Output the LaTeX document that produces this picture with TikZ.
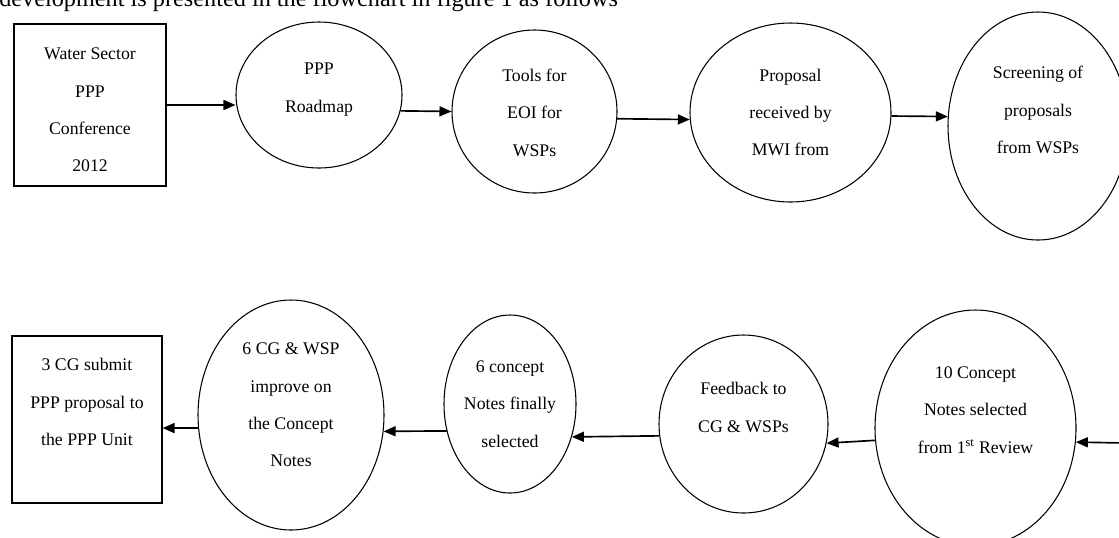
\documentclass[tikz,border=0pt]{standalone}
\usepackage{fontspec}
\setmainfont{Liberation Serif}
\usetikzlibrary{shapes.geometric,arrows.meta}

\begin{document}
\begin{tikzpicture}[x=0.75pt,y=-0.75pt]
        \tikzstyle{box}=[draw, line width=0.8pt, inner sep=0pt]
        \tikzstyle{bubble}=[draw, ellipse, line width=0.8pt, inner sep=0pt]
        \tikzstyle{txt}=[align=center, inner sep=0pt, font=\fontsize{13.3}{28}\selectfont]
        \tikzstyle{flow}=[-{Triangle[length=9pt,width=7.5pt]}, line width=1.25pt]
        \useasboundingbox (0,0) rectangle (1119,537);
        \clip (0,0) rectangle (1119,537);
        \node[anchor=base west, inner sep=0pt, font=\fontsize{18.2}{22}\selectfont] (intro) at (-1,6.5)
          {development is presented in the flowchart in figure 1 as follows};
        % first row
        \node[box, minimum width=114pt, minimum height=121.5pt,
          label={[txt, yshift=-3.75pt]center:{Water Sector\\PPP\\Conference\\2012}}] (wsc) at (90,105) {};
        \node[bubble, minimum width=124.5pt, minimum height=109.5pt,
          label={[txt, yshift=4pt]center:{PPP\\Roadmap}}] (road) at (319,95) {};
        \node[bubble, minimum width=123.75pt, minimum height=122.25pt,
          label={[txt, yshift=-1pt]center:{Tools for\\EOI for\\WSPs}}] (tools) at (534.5,111.5) {};
        \node[bubble, minimum width=150.75pt, minimum height=134.25pt,
          label={[txt]center:{Proposal\\received by\\MWI from}}] (prop) at (790.5,112.5) {};
        \node[bubble, minimum width=135pt, minimum height=171pt,
          label={[txt, yshift=12pt]center:{Screening of\\proposals\\from WSPs}}] (scr) at (1038,126) {};
        % second row
        \node[bubble, minimum width=150.75pt, minimum height=177pt,
          label={[txt, yshift=13.5pt]center:{10 Concept\\Notes selected\\from 1\textsuperscript{st} Review}}] (ten) at (975.5,428) {};
        \node[bubble, minimum width=126.75pt, minimum height=133.5pt,
          label={[txt, yshift=12.4pt]center:{Feedback to\\CG \& WSPs}}] (fdbk) at (743.5,424) {};
        \node[bubble, minimum width=99pt, minimum height=133.5pt,
          label={[txt]center:{6 concept\\Notes finally\\selected}}] (conc) at (510,404) {};
        \node[bubble, minimum width=139.5pt, minimum height=172.5pt,
          label={[txt, yshift=7.5pt]center:{6 CG \& WSP\\improve on\\the Concept\\Notes}}] (six) at (291,415) {};
        \node[box, minimum width=112.5pt, minimum height=125.25pt,
          label={[txt, yshift=13pt]center:{3 CG submit\\PPP proposal to\\the PPP Unit}}] (sub) at (87,419.5) {};
        \coordinate (rin) at (1125,443);
        % connectors
        \draw[flow] (wsc.east) -- (wsc.east -| road.west);
        \draw[flow] (road.-11.6) -- (tools.west);
        \draw[flow] (tools.-5.6) -- (prop.184);
        \draw[flow] (prop.-2.6) -- (scr.174.3);
        \draw[flow] (rin) -- (ten.-8.6);
        \draw[flow] (ten.187.4) -- (fdbk.-13);
        \draw[flow] (fdbk.188.8) -- (conc.-28.4);
        \draw[flow] (conc.203.6) -- (six.-10.5);
        \draw[flow] (six.188) -- (six.188 -| sub.east);
\end{tikzpicture}
\end{document}
